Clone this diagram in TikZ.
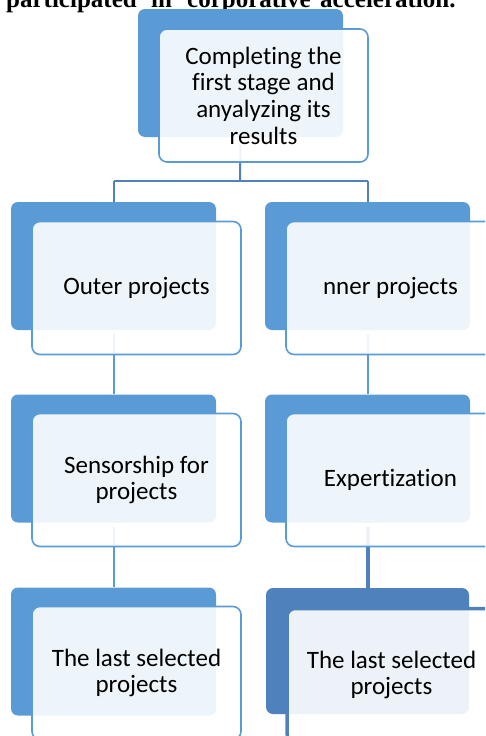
\documentclass[tikz,border=0pt]{standalone}
\usepackage{fontspec}
\usetikzlibrary{backgrounds}
\newfontfamily\lblfont[Ligatures=NoCommon]{Carlito}
\newfontfamily\ttlfont{Liberation Serif}
\definecolor{accent}{HTML}{5B9BD5}
\definecolor{accentdk}{HTML}{4F81BD}
\tikzset{
  darkbox/.style={fill=accent, draw=none, rounded corners=7pt, minimum width=205pt, minimum height=128pt, inner sep=0pt},
  frontbox/.style={fill=white, fill opacity=0.9, text opacity=1, draw=accent, line width=1.6pt, rounded corners=8pt,
    minimum width=209pt, minimum height=133pt, inner sep=2pt, align=center,
    font=\lblfont\fontsize{25}{26.7}\selectfont},
  link/.style={draw=accent, line width=2pt},
  treelink/.style={draw=accentdk, line width=2pt},
  ttl/.style={anchor=base west, inner sep=0pt, font=\ttlfont\bfseries\fontsize{25}{30}\selectfont}
}
\begin{document}
\begin{tikzpicture}[x=1pt, y=-1pt]
\useasboundingbox (0,0) rectangle (485,736);
\clip (0,0) rectangle (485,736);
% clipped title line
\node[ttl] (t1) at (6,7.5) {participated};
\node[ttl] (t2) at (151,7.5) {in};
\node[ttl] (t3) at (187,7.5) {corporative};
\node[ttl] (t4) at (320,7.5) {acceleration.};
% top
\node[darkbox] (d0) at (240.5,73) {};
\node[frontbox] (f0) at (263.5,95.5) {Completing the\\first stage and\\anyalyzing its\\results};
% row 2
\node[darkbox] (d1) at (113.5,266) {};
\node[frontbox] (f1) at (136.5,288) {Outer projects};
\node[darkbox] (d2) at (367.5,266) {};
\node[frontbox] (f2) at (390.5,288) {nner projects};
% row 3
\node[darkbox] (d3) at (113.5,458.5) {};
\node[frontbox] (f3) at (136.5,480) {Sensorship for\\projects};
\node[darkbox] (d4) at (367.5,458.5) {};
\node[frontbox] (f4) at (390.5,480) {Expertization};
% row 4
\node[darkbox] (d5) at (113.5,651.5) {};
\node[frontbox] (f5) at (136.5,673) {The last selected\\projects};
\node[darkbox, fill=accentdk, minimum width=203pt, minimum height=126pt] (d6) at (367.5,651) {};
\node[frontbox, draw=accentdk, line width=3.5pt] (f6) at (391.5,675) {The last selected\\projects};
% connectors
\begin{scope}[on background layer]
\coordinate (j) at (240,181);
\draw[treelink] ([yshift=-8pt]d0.south) -- (j);
\draw[treelink] (j -| d1.south) -- (j -| d2.south);
\draw[treelink] (j -| d1.south) -- (d1.north);
\draw[treelink] (j -| d2.south) -- (d2.north);
\draw[link] ([yshift=-4pt]d1.south) -- (d3.north);
\draw[link] ([yshift=-4pt]d2.south) -- (d4.north);
\draw[link] ([yshift=-4pt]d3.south) -- (d5.north);
\draw[draw=accentdk, line width=4pt] ([yshift=-4pt]d4.south) -- (d6.north);
\end{scope}
\end{tikzpicture}
\end{document}
